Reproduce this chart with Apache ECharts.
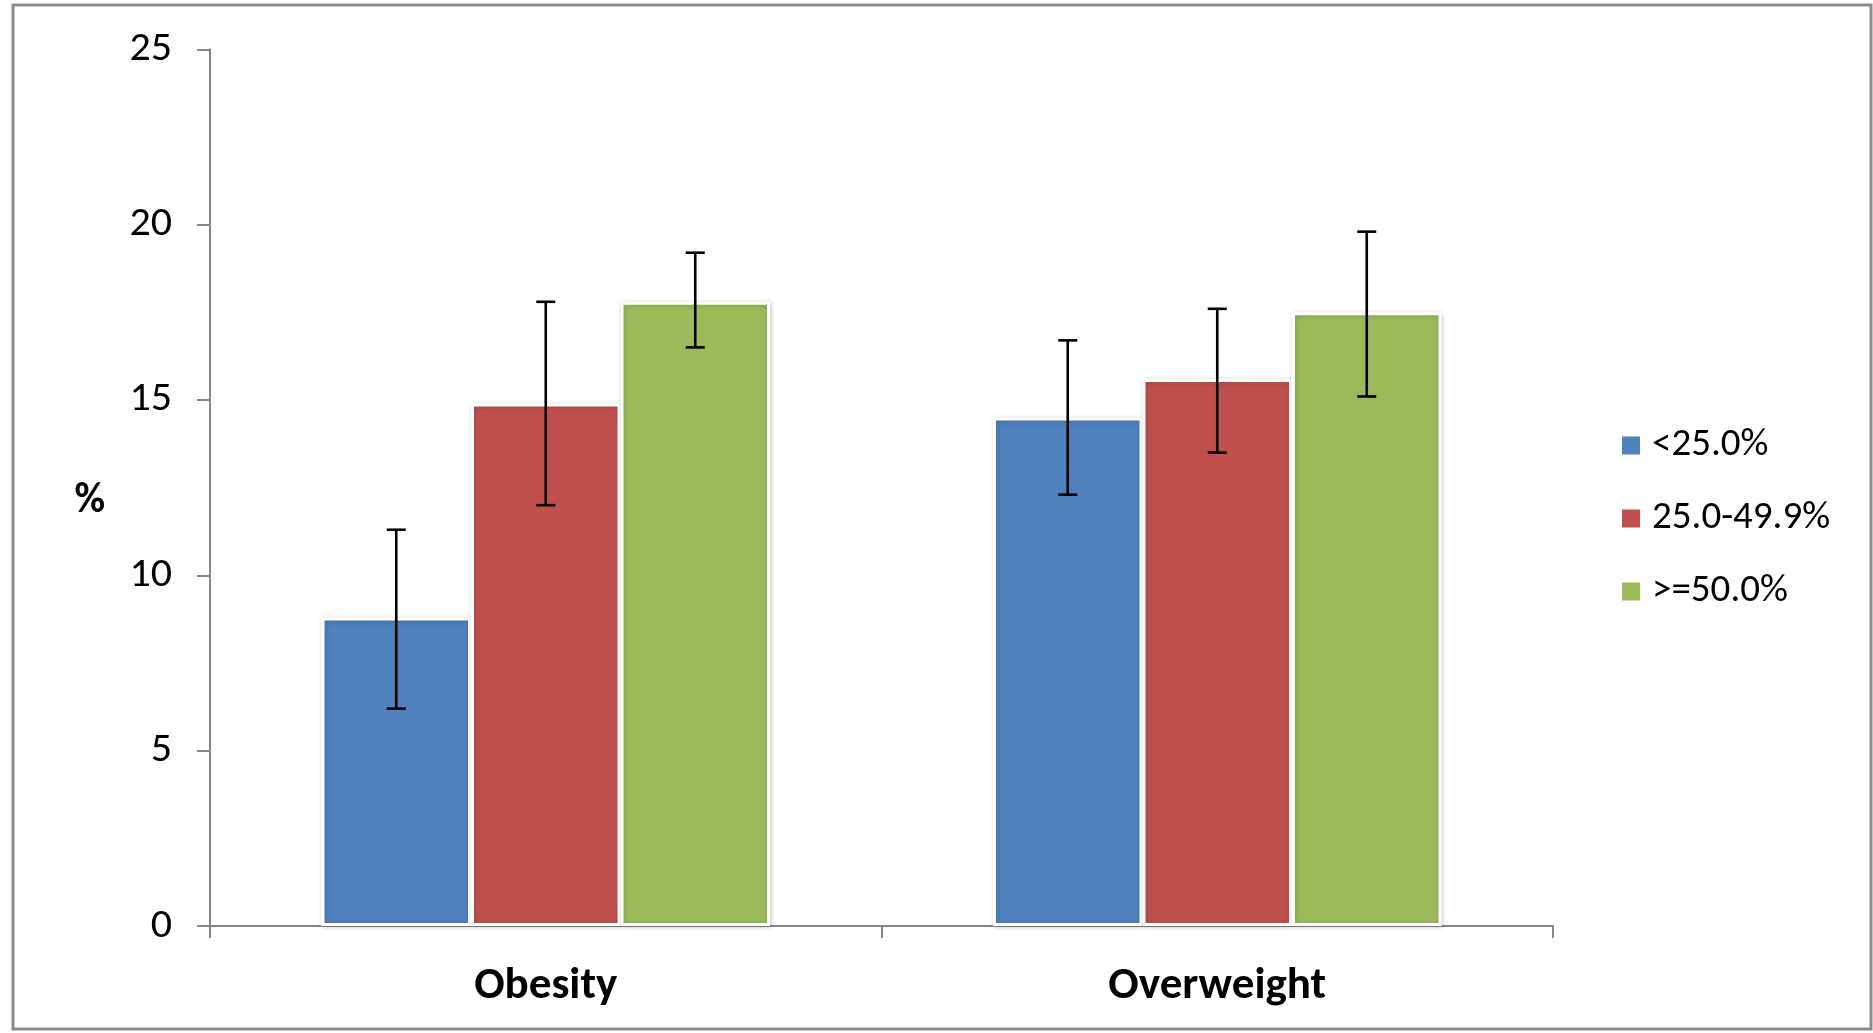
<!DOCTYPE html>
<html>
<head>
<meta charset="utf-8">
<script src="https://cdn.jsdelivr.net/npm/echarts@6/dist/echarts.min.js"></script>
<style>
html,body{margin:0;padding:0;background:#fff;}
#chart{width:1873px;height:1033px;}
</style>
</head>
<body>
<div id="chart"></div>
<script>
// ---- data ----
var categories = ['Obesity', 'Overweight'];
var seriesNames = ['<25.0%', '25.0-49.9%', '>=50.0%'];
var lt25 = [8.8, 14.5];
var lt25Low = [6.2, 12.3];
var lt25High = [11.3, 16.7];
var mid = [14.9, 15.6];
var midLow = [12.0, 13.5];
var midHigh = [17.8, 17.6];
var ge50 = [17.8, 17.5];
var ge50Low = [16.5, 15.1];
var ge50High = [19.2, 19.8];
var yTicks = [0, 5, 10, 15, 20, 25];

var colors = ['#4F81BD', '#C0504D', '#9BBB59'];
var values = [lt25, mid, ge50];
var lows = [lt25Low, midLow, ge50Low];
var highs = [lt25High, midHigh, ge50High];

var BAR_W = 149.5;
var FONT = 'Carlito, Lato, sans-serif';

var chart = echarts.init(document.getElementById('chart'));

var series = [];
values.forEach(function (vals, i) {
  series.push({
    name: seriesNames[i],
    type: 'bar',
    data: vals,
    barWidth: BAR_W,
    barGap: '0%',
    itemStyle: {
      color: colors[i],
      borderColor: '#ffffff',
      borderWidth: 3,
      shadowColor: 'rgba(0,0,0,0.18)',
      shadowBlur: 5,
      shadowOffsetX: 1,
      shadowOffsetY: 1
    },
    z: 2
  });
});
values.forEach(function (vals, i) {
  var errData = categories.map(function (c, k) { return [k, lows[i][k], highs[i][k]]; });
  series.push({
    type: 'custom',
    name: seriesNames[i] + ' err',
    data: errData,
    z: 5,
    silent: true,
    renderItem: function (params, api) {
      var k = api.value(0);
      var lo = api.coord([k, api.value(1)]);
      var hi = api.coord([k, api.value(2)]);
      var x = lo[0] + (i - 1) * BAR_W;
      var cap = 9.5;
      var st = { stroke: '#000', lineWidth: 2.6 };
      return {
        type: 'group',
        children: [
          { type: 'line', shape: { x1: x, y1: lo[1], x2: x, y2: hi[1] }, style: st },
          { type: 'line', shape: { x1: x - cap, y1: lo[1], x2: x + cap, y2: lo[1] }, style: st },
          { type: 'line', shape: { x1: x - cap, y1: hi[1], x2: x + cap, y2: hi[1] }, style: st }
        ]
      };
    }
  });
});

chart.setOption({
  animation: false,
  backgroundColor: '#ffffff',
  grid: { left: 210, right: 320, top: 49.3, bottom: 107 },
  legend: {
    orient: 'vertical',
    left: 1615,
    top: 421,
    itemWidth: 20,
    itemHeight: 20,
    itemGap: 34,
    icon: 'rect',
    data: seriesNames,
    textStyle: { fontFamily: FONT, fontSize: 39, color: '#000', lineHeight: 30, padding: [0, 0, 0, 6] }
  },
  xAxis: {
    type: 'category',
    data: categories,
    axisLine: { lineStyle: { color: '#868686', width: 2 } },
    axisTick: { show: true, length: 12, lineStyle: { color: '#868686', width: 2 } },
    axisLabel: { fontFamily: FONT, fontSize: 45, fontWeight: 'bold', color: '#000', margin: 38 }
  },
  yAxis: {
    type: 'value',
    min: 0,
    max: 25,
    interval: 5,
    name: '%',
    nameLocation: 'middle',
    nameRotate: 0,
    nameGap: 105,
    nameTextStyle: { fontFamily: FONT, fontSize: 42, fontWeight: 'bold', color: '#000', verticalAlign: 'top', lineHeight: 28 },
    axisLine: { show: true, lineStyle: { color: '#868686', width: 2 } },
    axisTick: { show: true, length: 13, lineStyle: { color: '#868686', width: 2 } },
    splitLine: { show: false },
    axisLabel: {
      fontFamily: FONT, fontSize: 42, color: '#000', margin: 38,
      formatter: function (v) { return yTicks.indexOf(v) >= 0 ? String(v) : ''; }
    }
  },
  graphic: [{
    type: 'rect',
    shape: { x: 13, y: 5, width: 1858, height: 1024 },
    style: { fill: 'none', stroke: '#8c8c8c', lineWidth: 3 },
    z: 100,
    silent: true
  }],
  series: series
});
</script>
</body>
</html>
